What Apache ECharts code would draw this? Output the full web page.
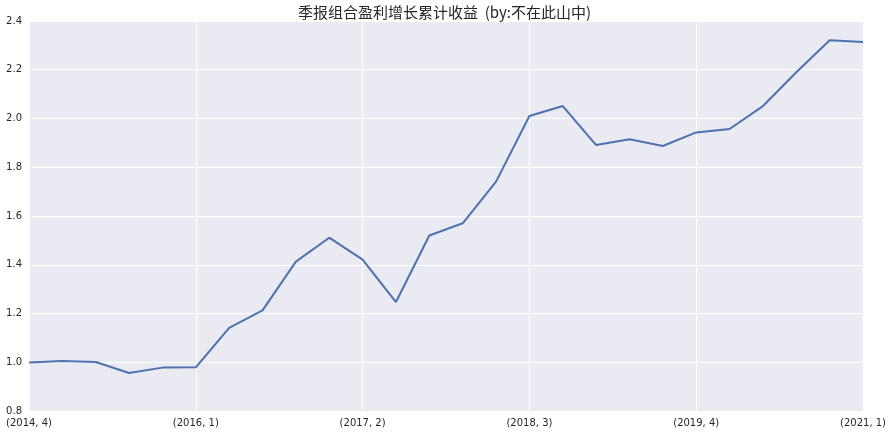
<!DOCTYPE html>
<html>
<head>
<meta charset="utf-8">
<script src="https://cdn.jsdelivr.net/npm/echarts@6/dist/echarts.min.js"></script>
<style>html,body{margin:0;padding:0;background:#fff;}#c{width:889px;height:435px;}</style>
</head>
<body>
<div id="c"></div>
<script>
const categories = [
  "(2014, 4)","(2015, 1)","(2015, 2)","(2015, 3)","(2015, 4)",
  "(2016, 1)","(2016, 2)","(2016, 3)","(2016, 4)","(2017, 1)",
  "(2017, 2)","(2017, 3)","(2017, 4)","(2018, 1)","(2018, 2)",
  "(2018, 3)","(2018, 4)","(2019, 1)","(2019, 2)","(2019, 3)",
  "(2019, 4)","(2020, 1)","(2020, 2)","(2020, 3)","(2020, 4)",
  "(2021, 1)"
];
const values = [
  0.999, 1.005, 1.001, 0.956, 0.978,
  0.979, 1.141, 1.213, 1.413, 1.511,
  1.421, 1.247, 1.520, 1.570, 1.741,
  2.010, 2.051, 1.891, 1.915, 1.887,
  1.943, 1.957, 2.051, 2.190, 2.321,
  2.314
];
const yTicks = { min: 0.8, max: 2.4, interval: 0.2 };
const titleText = "季报组合盈利增长累计收益  (by:不在此山中)";

const chart = echarts.init(document.getElementById('c'), null, { renderer: 'canvas' });
chart.setOption({
  animation: false,
  backgroundColor: '#ffffff',
  title: {
    text: titleText,
    left: 'center',
    top: 0,
    textStyle: { fontFamily: '"Noto Sans CJK SC", "DejaVu Sans", sans-serif', fontSize: 15, fontWeight: 'normal', color: '#262626', whiteSpace: 'pre' }
  },
  grid: {
    left: 29, right: 25, top: 21, bottom: 24,
    show: true, backgroundColor: '#EAEAF2', borderWidth: 0
  },
  xAxis: {
    type: 'category',
    data: categories,
    boundaryGap: false,
    axisLine: { show: false },
    axisTick: { show: false },
    axisLabel: {
      interval: 4, color: '#262626', fontSize: 10, margin: 7,
      fontFamily: '"DejaVu Sans", sans-serif',
      showMinLabel: true, showMaxLabel: true
    },
    splitLine: { show: true, interval: 4, lineStyle: { color: '#ffffff', width: 1 } }
  },
  yAxis: {
    type: 'value',
    min: yTicks.min, max: yTicks.max, interval: yTicks.interval,
    axisLine: { show: false },
    axisTick: { show: false },
    axisLabel: {
      color: '#262626', fontSize: 10, margin: 7,
      fontFamily: '"DejaVu Sans", sans-serif',
      formatter: v => v.toFixed(1)
    },
    splitLine: { show: true, lineStyle: { color: '#ffffff', width: 1 } }
  },
  series: [{
    type: 'line',
    data: values,
    showSymbol: false,
    symbol: 'none',
    lineStyle: { color: '#4C72B0', width: 2 },
    itemStyle: { color: '#4C72B0' }
  }]
});
</script>
</body>
</html>
